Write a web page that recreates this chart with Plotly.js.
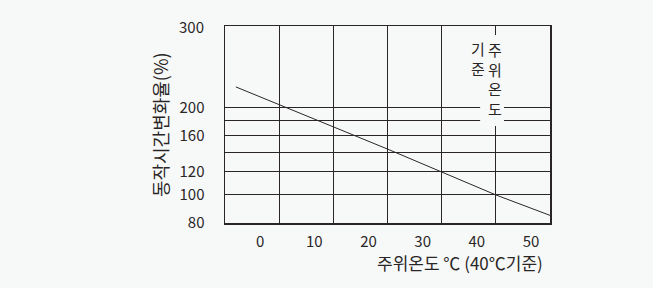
<!DOCTYPE html>
<html>
<head>
<meta charset="utf-8">
<script src="https://cdn.plot.ly/plotly-3.0.1.min.js"></script>
<style>html,body{margin:0;padding:0;background:#f7f9f9;}#chart{width:653px;height:288px;}</style>
</head>
<body>
<div id="chart"></div>
<script>
// Data
const temperature = [-8, 0, 10, 20, 30, 40, 50];          // 주위온도 (℃)
const changeRate  = [236, 205, 172, 144, 120, 100, 85];    // 동작시간변화율 (%)

const xTickVals = [0, 10, 20, 30, 40, 50];
const xTickText = ['0', '10', '20', '30', '40', '50'];
const yGridVals = [80, 100, 120, 140, 160, 180, 200];
const yTickText = ['80', '100', '120', '', '160', '', '200'];
const yTopLabel = '300';
const refTemp = 40;
const refLabelRight = ['주', '위', '온', '도'];
const refLabelLeft = ['기', '준'];

const ink = '#2b2626';
const bg = '#f7f9f9';
const font = "'Noto Sans CJK KR', 'Noto Sans', sans-serif";

const trace = {
  x: temperature, y: changeRate, type: 'scatter', mode: 'lines',
  line: {color: ink, width: 1}, hoverinfo: 'skip', showlegend: false
};

const layout = {
  width: 653, height: 288,
  margin: {l: 225, r: 103, t: 26, b: 65},
  paper_bgcolor: bg, plot_bgcolor: bg,
  font: {family: font, color: ink, size: 15},
  xaxis: {
    range: [-10, 50], tickvals: xTickVals, ticktext: xTickText,
    showgrid: true, gridcolor: ink, gridwidth: 1, zeroline: false,
    showline: true, linecolor: ink, linewidth: 1.5, mirror: true,
    ticks: '', ticklabelshift: -19, ticklabelstandoff: 4,
    tickfont: {size: 15, family: font, color: ink}
  },
  yaxis: {
    type: 'log', range: [Math.log10(80), Math.log10(383)],
    tickvals: yGridVals, ticktext: yTickText,
    showgrid: true, gridcolor: ink, gridwidth: 1, zeroline: false,
    showline: true, linecolor: ink, linewidth: 1.5, mirror: true,
    ticks: '', ticklabelstandoff: 16,
    tickfont: {size: 15, family: font, color: ink}
  },
  shapes: [
    {type: 'rect', layer: 'above', xref: 'x', yref: 'paper', x0: 37.1, x1: 41.5, y0: 0.492, y1: 0.954,
     fillcolor: bg, line: {width: 0}}
  ],
  annotations: [
    {text: yTopLabel, xref: 'paper', yref: 'paper', x: 0, y: 1, xanchor: 'right', yanchor: 'middle',
     xshift: -19, showarrow: false, font: {size: 15, family: font, color: ink}},
    {text: '동작시간변화율(%)', xref: 'paper', yref: 'paper', x: 0, y: 0.497, xanchor: 'center', yanchor: 'middle',
     xshift: -65, textangle: -90, showarrow: false, font: {size: 18, family: font, color: ink}},
    {text: '주위온도 ℃ (40℃기준)', xref: 'paper', yref: 'paper', x: 1, y: -0.201, xanchor: 'right', yanchor: 'middle',
     xshift: -5, showarrow: false, font: {size: 17, family: font, color: ink}},
    {text: refLabelRight.join('<br>'), xref: 'x', yref: 'paper', x: refTemp - 0.2, y: 0.7335,
     xanchor: 'center', yanchor: 'middle', borderpad: 0, showarrow: false,
     font: {size: 15, family: font, color: ink}},
    {text: refLabelLeft.join('<br>'), xref: 'x', yref: 'paper', x: refTemp - 3.3, y: 0.836,
     xanchor: 'center', yanchor: 'middle', borderpad: 0, showarrow: false,
     font: {size: 15, family: font, color: ink}}
  ]
};

Plotly.newPlot('chart', [trace], layout, {staticPlot: true, displayModeBar: false});
</script>
</body>
</html>
